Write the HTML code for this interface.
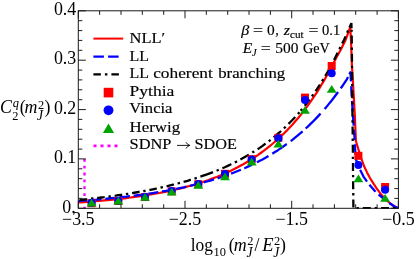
<!DOCTYPE html>
<html><head><meta charset="utf-8"><title>plot</title>
<style>html,body{margin:0;padding:0;background:#fff}body{width:416px;height:259px;overflow:hidden;font-family:"Liberation Serif",serif}</style>
</head><body>
<svg width="416" height="259" viewBox="0 0 416 259" style="display:block;will-change:transform;transform:translateZ(0)">
<rect width="416" height="259" fill="#fff"/>
<g font-family="'Liberation Serif', serif" fill="#000">
<clipPath id="c"><rect x="78.3" y="10.8" width="320.1" height="198.1"/></clipPath>
<g clip-path="url(#c)" fill="none" stroke-linejoin="round">
<path d="M84.5 158.9 V208.3" stroke="#ff00ff" stroke-width="2.4" stroke-dasharray="2.8 4.05"/>
<path d="M78.3 202.5 L81.2 202.3 L84.1 202.1 L87.0 201.9 L89.9 201.7 L92.8 201.4 L95.7 201.2 L98.6 200.9 L101.5 200.7 L104.4 200.4 L107.3 200.1 L110.2 199.9 L113.0 199.6 L115.9 199.3 L118.8 198.9 L121.7 198.6 L124.6 198.3 L127.5 197.9 L130.4 197.5 L133.3 197.1 L136.2 196.7 L139.1 196.3 L142.0 195.9 L144.9 195.5 L147.8 195.0 L150.7 194.5 L153.6 194.0 L156.5 193.5 L159.4 193.0 L162.3 192.4 L165.2 191.8 L168.1 191.2 L171.0 190.6 L173.9 190.0 L176.7 189.3 L179.6 188.6 L182.5 187.9 L185.4 187.1 L188.3 186.3 L191.2 185.5 L194.1 184.7 L197.0 183.8 L199.9 182.9 L202.8 182.0 L205.7 181.0 L208.6 180.0 L211.5 178.9 L214.4 177.8 L217.3 176.7 L220.2 175.5 L223.1 174.3 L226.0 173.0 L228.9 171.7 L231.8 170.3 L234.7 168.8 L237.6 167.3 L240.4 165.8 L243.3 164.2 L246.2 162.5 L249.1 160.7 L252.0 158.9 L254.9 157.0 L257.8 155.1 L260.7 153.0 L263.6 150.9 L266.5 148.7 L269.4 146.4 L272.3 144.0 L275.2 141.5 L278.1 139.0 L281.0 136.3 L283.9 133.5 L286.8 130.6 L289.7 127.5 L292.6 124.4 L295.5 121.1 L298.4 117.7 L301.3 114.1 L304.1 110.4 L307.0 106.6 L309.9 102.6 L312.8 98.4 L315.7 94.1 L318.6 89.6 L321.5 84.8 L324.4 79.9 L327.3 74.8 L330.2 69.5 L333.1 64.0 L336.0 58.2 L340.6 50.0 L345.6 40.0 L350.2 27.1 L351.0 40.0 L351.9 65.0 L353.4 90.0 L354.8 115.0 L355.9 141.0 L358.6 150.0 L361.3 158.5 L364.0 166.0 L367.0 172.4 L370.0 178.0 L373.2 183.2 L376.6 188.3 L380.2 193.2 L384.0 197.6 L388.0 201.5 L392.0 204.8 L395.5 207.0 L398.4 208.2" stroke="#ff0000" stroke-width="2.2"/>
<path d="M78.3 201.0 L81.3 200.7 L84.3 200.5 L87.2 200.3 M91.0 200.0 L93.4 199.8 L96.4 199.6 L99.4 199.3 L101.5 199.1 M105.3 198.8 L105.5 198.8 L108.5 198.5 L111.5 198.2 L114.5 197.9 L115.7 197.8 M119.5 197.4 L120.6 197.2 L123.6 196.9 L126.6 196.6 L129.6 196.2 L129.9 196.2 M133.7 195.7 L135.7 195.5 L138.7 195.1 L141.7 194.7 L144.1 194.3 M147.9 193.8 L150.8 193.3 L153.8 192.9 L156.8 192.4 L158.3 192.2 M162.0 191.5 L162.8 191.4 L165.9 190.9 L168.9 190.3 L171.9 189.7 L172.3 189.7 M176.1 188.9 L177.9 188.5 L180.9 187.9 L184.0 187.3 L186.3 186.7 M190.0 185.9 L193.0 185.2 L196.0 184.4 L199.1 183.7 L200.2 183.4 M203.9 182.4 L205.1 182.0 L208.1 181.2 L211.1 180.3 L214.0 179.4 M217.6 178.3 L220.2 177.4 L223.2 176.4 L226.2 175.4 L227.5 174.9 M231.1 173.6 L232.3 173.2 L235.3 172.0 L238.3 170.8 L240.9 169.7 M244.3 168.2 L244.4 168.2 L247.4 166.9 L250.4 165.5 L252.0 164.7 M256.9 162.3 L259.4 161.0 L262.5 159.4 L265.5 157.7 L268.5 155.9 M272.3 153.7 L274.5 152.3 L277.6 150.4 L280.6 148.4 L283.6 146.3 L286.6 144.1 L286.8 144.0 M290.7 141.1 L292.7 139.6 L295.7 137.2 L298.7 134.7 L301.7 132.1 L302.6 131.3 M305.7 128.5 L307.8 126.6 L310.8 123.7 L313.8 120.7 L316.8 117.6 L319.8 114.4 L320.5 113.6 M324.6 109.0 L325.9 107.6 L328.9 103.9 L331.9 100.2 L334.9 96.3 L337.9 92.2 L338.1 92.0 M340.8 88.3 L341.0 88.0 L344.0 83.7 L347.0 79.1 L348.0 77.1 M349.4 74.2 L350.4 72.2 L351.0 81.4 M351.2 86.3 L351.7 96.8 M352.0 100.8 L352.7 111.3 M352.9 115.3 L353.7 125.7 M354.0 129.7 L354.7 140.2 M354.9 144.2 L355.4 154.7 M355.8 158.6 L358.0 166.0 L359.1 168.0 M360.1 169.9 L361.0 171.5 L363.5 176.6 L367.0 181.6 M369.4 184.7 L375.5 191.7 M378.6 194.5 L384.8 199.5 L386.6 200.9 M389.3 203.0 L390.0 203.5 L394.5 206.5 L398.4 208.2" stroke="#0000ff" stroke-width="2.3"/>
<path d="M79.7 199.9 L81.2 199.8 L84.0 199.5 L86.9 199.2 L87.3 199.1 M91.0 198.7 L92.7 198.5 L93.4 198.5 M97.2 198.0 L98.4 197.9 L101.3 197.5 L104.2 197.2 L104.7 197.1 M108.5 196.6 L109.9 196.4 L110.9 196.3 M114.7 195.8 L115.6 195.7 L118.5 195.2 L121.4 194.8 L122.2 194.7 M125.9 194.1 L127.1 193.9 L128.3 193.8 M132.1 193.1 L132.9 193.0 L135.8 192.5 L138.6 192.0 L139.6 191.9 M143.3 191.2 L144.4 191.0 L145.6 190.7 M149.4 190.0 L150.1 189.9 L153.0 189.3 L155.9 188.7 L156.8 188.5 M160.5 187.7 L161.6 187.4 L162.9 187.2 M166.6 186.3 L167.4 186.1 L170.2 185.4 L173.1 184.7 L174.0 184.5 M177.6 183.5 L178.9 183.2 L180.0 182.9 M183.6 181.9 L184.6 181.6 L187.5 180.8 L190.3 179.9 L190.9 179.8 M194.5 178.6 L196.1 178.1 L196.8 177.9 M200.4 176.7 L201.8 176.2 L204.7 175.2 L205.0 175.1 M205.0 175.1 L207.6 174.2 L210.5 173.1 L213.0 172.1 M216.6 170.7 L218.8 169.8 M222.4 168.2 L224.8 167.2 L227.7 165.9 L230.6 164.5 L231.3 164.1 M234.8 162.4 L236.3 161.7 L237.0 161.3 M240.4 159.5 L242.1 158.6 L244.9 157.0 L247.8 155.3 L248.9 154.7 M252.3 152.6 L253.6 151.8 L254.3 151.4 M257.6 149.2 L259.3 148.1 L262.2 146.1 L265.0 144.0 L265.6 143.6 M268.7 141.3 L270.6 139.8 M273.6 137.4 L273.7 137.3 L276.5 134.9 L279.4 132.5 L281.1 131.0 M283.9 128.3 L285.2 127.2 L285.7 126.7 M288.5 123.9 L290.9 121.5 L293.8 118.5 L295.2 116.9 M297.9 114.0 L299.4 112.2 M300.7 110.7 L302.2 108.9 M304.7 105.8 L305.3 105.1 L308.1 101.4 L309.6 99.5 M311.9 96.4 L313.3 94.4 M315.5 91.2 L316.8 89.4 L319.6 85.0 L319.9 84.5 M322.0 81.3 L322.5 80.5 L323.3 79.2 M325.3 75.9 L325.4 75.7 L328.3 70.8 L329.3 68.9 M331.2 65.5 L332.3 63.4 M334.1 60.0 L337.6 52.8 M339.4 49.3 L340.4 47.1 M342.2 43.6 L344.0 40.0 L345.6 36.4 M347.1 32.8 L348.0 30.8 L348.1 30.6 M349.5 27.4 L351.4 23.1 L351.5 28.3 M351.6 29.8 L351.6 31.7 M351.7 35.6 L351.8 43.6 M351.8 47.5 L351.8 49.9 M351.9 53.8 L352.0 61.8 M352.0 65.7 L352.0 68.1 M352.1 72.0 L352.1 80.0 M352.2 83.9 L352.2 86.3 M352.2 90.2 L352.3 98.2 M352.4 102.1 L352.4 104.5 M352.4 108.4 L352.5 116.4 M352.5 120.3 L352.6 122.7 M352.6 126.6 L352.7 134.6 M352.7 138.5 L352.7 140.9 M352.8 144.8 L352.9 152.8 M352.9 156.7 L352.9 159.1 M353.0 163.0 L353.0 171.0 M353.1 174.9 L353.1 177.3 M353.1 181.2 L353.2 189.2 M353.3 193.1 L353.3 195.5 M353.3 199.4 L353.4 207.4 M356.5 208.2 L358.9 208.2 M362.8 208.2 L370.8 208.2 M374.7 208.2 L377.1 208.2 M381.0 208.2 L389.0 208.2 M392.9 208.2 L395.3 208.2" stroke="#000" stroke-width="2.3" stroke-linejoin="miter"/>
</g>
<rect x="87.6" y="199.2" width="8" height="8" fill="#ff0000"/>
<rect x="114.3" y="197.0" width="8" height="8" fill="#ff0000"/>
<rect x="141.0" y="193.0" width="8" height="8" fill="#ff0000"/>
<rect x="167.7" y="187.3" width="8" height="8" fill="#ff0000"/>
<rect x="194.3" y="180.2" width="8" height="8" fill="#ff0000"/>
<rect x="221.0" y="169.8" width="8" height="8" fill="#ff0000"/>
<rect x="247.7" y="155.2" width="8" height="8" fill="#ff0000"/>
<rect x="274.4" y="133.8" width="8" height="8" fill="#ff0000"/>
<rect x="301.0" y="93.6" width="8" height="8" fill="#ff0000"/>
<rect x="327.7" y="62.0" width="8" height="8" fill="#ff0000"/>
<rect x="354.4" y="151.8" width="8" height="8" fill="#ff0000"/>
<rect x="381.1" y="183.0" width="8" height="8" fill="#ff0000"/>
<circle cx="91.6" cy="202.8" r="4" fill="#0000ff"/>
<circle cx="118.3" cy="200.8" r="4" fill="#0000ff"/>
<circle cx="145.0" cy="196.7" r="4" fill="#0000ff"/>
<circle cx="171.7" cy="191.0" r="4" fill="#0000ff"/>
<circle cx="198.3" cy="184.0" r="4" fill="#0000ff"/>
<circle cx="225.0" cy="174.0" r="4" fill="#0000ff"/>
<circle cx="251.7" cy="159.5" r="4" fill="#0000ff"/>
<circle cx="278.4" cy="138.2" r="4" fill="#0000ff"/>
<circle cx="305.0" cy="100.0" r="4" fill="#0000ff"/>
<circle cx="331.7" cy="73.2" r="4" fill="#0000ff"/>
<circle cx="358.4" cy="165.0" r="4" fill="#0000ff"/>
<circle cx="385.1" cy="189.8" r="4" fill="#0000ff"/>
<path d="M91.6 198.8 L96.5 206.6 L86.7 206.6 Z" fill="#00a400"/>
<path d="M118.3 196.7 L123.2 204.5 L113.4 204.5 Z" fill="#00a400"/>
<path d="M145.0 192.9 L149.9 200.7 L140.1 200.7 Z" fill="#00a400"/>
<path d="M171.7 187.8 L176.6 195.6 L166.8 195.6 Z" fill="#00a400"/>
<path d="M198.3 180.9 L203.2 188.7 L193.4 188.7 Z" fill="#00a400"/>
<path d="M225.0 172.4 L229.9 180.2 L220.1 180.2 Z" fill="#00a400"/>
<path d="M251.7 157.6 L256.6 165.4 L246.8 165.4 Z" fill="#00a400"/>
<path d="M278.4 139.8 L283.3 147.6 L273.5 147.6 Z" fill="#00a400"/>
<path d="M305.0 105.9 L309.9 113.7 L300.1 113.7 Z" fill="#00a400"/>
<path d="M331.7 85.0 L336.6 92.8 L326.8 92.8 Z" fill="#00a400"/>
<path d="M358.4 174.4 L363.3 182.2 L353.5 182.2 Z" fill="#00a400"/>
<path d="M385.1 194.0 L390.0 201.8 L380.2 201.8 Z" fill="#00a400"/>
<g fill="none" stroke="#1a1a1a" stroke-width="1">
<rect x="78.3" y="10.8" width="320.1" height="197.5"/>
<path d="M78.3 208.3 v-7.5 M78.3 10.8 v7.5 M99.6 208.3 v-4.0 M99.6 10.8 v4.0 M121.0 208.3 v-4.0 M121.0 10.8 v4.0 M142.3 208.3 v-4.0 M142.3 10.8 v4.0 M163.7 208.3 v-4.0 M163.7 10.8 v4.0 M185.0 208.3 v-7.5 M185.0 10.8 v7.5 M206.3 208.3 v-4.0 M206.3 10.8 v4.0 M227.7 208.3 v-4.0 M227.7 10.8 v4.0 M249.0 208.3 v-4.0 M249.0 10.8 v4.0 M270.4 208.3 v-4.0 M270.4 10.8 v4.0 M291.7 208.3 v-7.5 M291.7 10.8 v7.5 M313.0 208.3 v-4.0 M313.0 10.8 v4.0 M334.4 208.3 v-4.0 M334.4 10.8 v4.0 M355.7 208.3 v-4.0 M355.7 10.8 v4.0 M377.1 208.3 v-4.0 M377.1 10.8 v4.0 M398.4 208.3 v-7.5 M398.4 10.8 v7.5 M78.3 208.3 h7.5 M398.4 208.3 h-7.5 M78.3 198.4 h4.0 M398.4 198.4 h-4.0 M78.3 188.6 h4.0 M398.4 188.6 h-4.0 M78.3 178.7 h4.0 M398.4 178.7 h-4.0 M78.3 168.8 h4.0 M398.4 168.8 h-4.0 M78.3 158.9 h7.5 M398.4 158.9 h-7.5 M78.3 149.1 h4.0 M398.4 149.1 h-4.0 M78.3 139.2 h4.0 M398.4 139.2 h-4.0 M78.3 129.3 h4.0 M398.4 129.3 h-4.0 M78.3 119.4 h4.0 M398.4 119.4 h-4.0 M78.3 109.6 h7.5 M398.4 109.6 h-7.5 M78.3 99.7 h4.0 M398.4 99.7 h-4.0 M78.3 89.8 h4.0 M398.4 89.8 h-4.0 M78.3 79.9 h4.0 M398.4 79.9 h-4.0 M78.3 70.1 h4.0 M398.4 70.1 h-4.0 M78.3 60.2 h7.5 M398.4 60.2 h-7.5 M78.3 50.3 h4.0 M398.4 50.3 h-4.0 M78.3 40.4 h4.0 M398.4 40.4 h-4.0 M78.3 30.6 h4.0 M398.4 30.6 h-4.0 M78.3 20.7 h4.0 M398.4 20.7 h-4.0 M78.3 10.8 h7.5 M398.4 10.8 h-7.5"/>
</g>
<text x="76.3" y="14.8" font-size="17.9" text-anchor="end">0.4</text>
<text x="76.3" y="64.2" font-size="17.9" text-anchor="end">0.3</text>
<text x="76.3" y="113.6" font-size="17.9" text-anchor="end">0.2</text>
<text x="76.3" y="162.9" font-size="17.9" text-anchor="end">0.1</text>
<text x="62.3" y="212.6" font-size="17.9">0.</text>
<text x="78.3" y="225.2" font-size="17.9" text-anchor="middle">−3.5</text>
<text x="185.0" y="225.2" font-size="17.9" text-anchor="middle">−2.5</text>
<text x="291.7" y="225.2" font-size="17.9" text-anchor="middle">−1.5</text>
<text x="398.4" y="225.2" font-size="17.9" text-anchor="middle">−0.5</text>
<text x="0.1" y="113.3" font-size="17.8" font-style="italic">C</text>
<text x="12.7" y="107.2" font-size="12.4" font-style="italic">q</text>
<text x="12.2" y="120.0" font-size="12.4">2</text>
<text x="19.8" y="113.3" font-size="17.8">(</text>
<text x="24.4" y="113.3" font-size="17.8" font-style="italic" textLength="12.9" lengthAdjust="spacingAndGlyphs">m</text>
<text x="38.0" y="109.4" font-size="12.4">2</text>
<text x="37.0" y="119.9" font-size="13.6" font-style="italic">J</text>
<text x="44.4" y="113.3" font-size="17.8">)</text>
<text x="190.7" y="251.0" font-size="17.8" textLength="22.3" lengthAdjust="spacingAndGlyphs">log</text>
<text x="213.6" y="255.7" font-size="12.4">10</text>
<text x="228.7" y="251.0" font-size="17.8">(</text>
<text x="233.8" y="251.0" font-size="17.8" font-style="italic" textLength="12.9" lengthAdjust="spacingAndGlyphs">m</text>
<text x="247.3" y="244.5" font-size="12.4">2</text>
<text x="246.6" y="256.5" font-size="13.6" font-style="italic">J</text>
<text x="254.4" y="251.0" font-size="17.8">/</text>
<text x="262.2" y="251.0" font-size="17.8" font-style="italic" textLength="11.3" lengthAdjust="spacingAndGlyphs">E</text>
<text x="274.0" y="244.5" font-size="12.4">2</text>
<text x="273.2" y="256.5" font-size="13.6" font-style="italic">J</text>
<text x="280.1" y="251.0" font-size="17.8">)</text>
<g fill="none">
<path d="M93.4 38.6 H123.2" stroke="#ff0000" stroke-width="2"/>
<path d="M93.4 56.7 H119" stroke="#0000ff" stroke-width="2.2" stroke-dasharray="10.5 4.2"/>
<path d="M93.4 74.4 H119" stroke="#000" stroke-width="2.2" stroke-dasharray="7.5 4 2.5 4"/>
<path d="M93.5 145.8 H118" stroke="#ff00ff" stroke-width="2.8" stroke-dasharray="3 4"/>
</g>
<rect x="103.7" y="87.8" width="9.6" height="9.6" fill="#ff0000"/>
<circle cx="108.5" cy="110.3" r="4.9" fill="#0000ff"/>
<path d="M108.5 123.6 L114.1 133.0 L102.9 133.0 Z" fill="#00a400"/>
<text x="129.5" y="43.0" font-size="14.7" textLength="35.6" lengthAdjust="spacingAndGlyphs" stroke="#000" stroke-width="0.15">NLL′</text>
<text x="129.5" y="60.7" font-size="14.7" textLength="19.5" lengthAdjust="spacingAndGlyphs" stroke="#000" stroke-width="0.15">LL</text>
<text x="129.5" y="78.2" font-size="14.7" textLength="19.5" lengthAdjust="spacingAndGlyphs" stroke="#000" stroke-width="0.15">LL</text>
<text x="153.2" y="78.2" font-size="14.7" textLength="59.6" lengthAdjust="spacingAndGlyphs" stroke="#000" stroke-width="0.15">coherent</text>
<text x="218.2" y="78.2" font-size="14.7" textLength="67.0" lengthAdjust="spacingAndGlyphs" stroke="#000" stroke-width="0.15">branching</text>
<text x="129.5" y="95.7" font-size="14.7" textLength="44.8" lengthAdjust="spacingAndGlyphs" stroke="#000" stroke-width="0.15">Pythia</text>
<text x="129.3" y="113.4" font-size="14.7" textLength="43.2" lengthAdjust="spacingAndGlyphs" stroke="#000" stroke-width="0.15">Vincia</text>
<text x="129.5" y="131.5" font-size="14.7" textLength="50.6" lengthAdjust="spacingAndGlyphs" stroke="#000" stroke-width="0.15">Herwig</text>
<text x="129.5" y="148.9" font-size="14.7" textLength="42.0" lengthAdjust="spacingAndGlyphs" stroke="#000" stroke-width="0.15">SDNP</text>
<text x="194.6" y="148.9" font-size="14.7" textLength="42.4" lengthAdjust="spacingAndGlyphs" stroke="#000" stroke-width="0.15">SDOE</text>
<path d="M177.4 145.4 H189.4 M186.2 142.6 Q187.4 144.8 189.8 145.4 Q187.4 146 186.2 148.2" fill="none" stroke="#000" stroke-width="0.9" stroke-linecap="round"/>
<text x="241.3" y="35.0" font-size="14.2" font-style="italic" textLength="8.0" lengthAdjust="spacingAndGlyphs" stroke="#000" stroke-width="0.15">β</text>
<text x="252.9" y="35.0" font-size="14.2" textLength="10.0" lengthAdjust="spacingAndGlyphs" stroke="#000" stroke-width="0.15">=</text>
<text x="267.0" y="35.0" font-size="14.2" textLength="7.7" lengthAdjust="spacingAndGlyphs" stroke="#000" stroke-width="0.15">0</text>
<text x="275.2" y="35.0" font-size="14.2" stroke="#000" stroke-width="0.15">,</text>
<text x="283.7" y="35.0" font-size="14.2" font-style="italic" textLength="6.2" lengthAdjust="spacingAndGlyphs" stroke="#000" stroke-width="0.15">z</text>
<text x="290.0" y="37.8" font-size="10.3" textLength="13.6" lengthAdjust="spacingAndGlyphs" stroke="#000" stroke-width="0.15">cut</text>
<text x="308.4" y="35.0" font-size="14.2" textLength="10.0" lengthAdjust="spacingAndGlyphs" stroke="#000" stroke-width="0.15">=</text>
<text x="322.1" y="35.0" font-size="14.2" textLength="18.2" lengthAdjust="spacingAndGlyphs" stroke="#000" stroke-width="0.15">0.1</text>
<text x="242.8" y="53.2" font-size="14.2" font-style="italic" textLength="9.4" lengthAdjust="spacingAndGlyphs" stroke="#000" stroke-width="0.15">E</text>
<text x="252.0" y="56.0" font-size="10.3" font-style="italic" stroke="#000" stroke-width="0.15">J</text>
<text x="260.8" y="53.2" font-size="14.2" textLength="10.0" lengthAdjust="spacingAndGlyphs" stroke="#000" stroke-width="0.15">=</text>
<text x="275.3" y="53.2" font-size="14.2" textLength="23.2" lengthAdjust="spacingAndGlyphs" stroke="#000" stroke-width="0.15">500</text>
<text x="303.0" y="53.2" font-size="14.2" textLength="26.8" lengthAdjust="spacingAndGlyphs" stroke="#000" stroke-width="0.15">GeV</text>
</g></svg>
</body></html>
